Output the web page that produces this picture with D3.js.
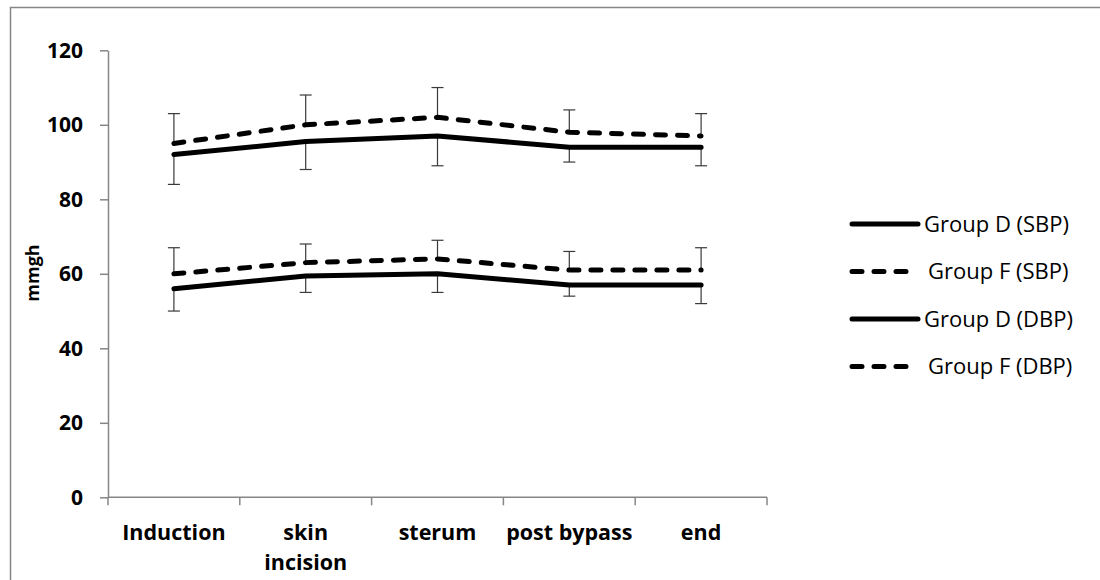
<!DOCTYPE html>
<html>
<head>
<meta charset="utf-8">
<script src="https://cdn.jsdelivr.net/npm/d3@7"></script>
<style>
  body { margin: 0; background: #fff; }
  svg { display: block; font-family: "Open Sans", sans-serif; }
</style>
</head>
<body>
<svg id="chart" width="1100" height="580"></svg>
<script>
const categories = ['Induction', 'skin incision', 'sterum', 'post bypass', 'end']
const yTicks = [0, 20, 40, 60, 80, 100, 120]

// means
const groupDSbp = [92, 95.5, 97, 94, 94]
const groupFSbp = [95, 100, 102, 98, 97]
const groupDDbp = [56, 59.4, 60, 57, 57]
const groupFDbp = [60, 63, 64, 61, 61]

// error bar sizes (D drawn downward, F drawn upward)
const errDSbp = [8, 7.5, 8, 4, 5]
const errFSbp = [8, 8, 8, 6, 6]
const errDDbp = [6, 4.4, 5, 3, 5]
const errFDbp = [7, 5, 5, 5, 6]

const series = [
  { name: 'Group D (SBP)', values: groupDSbp, err: errDSbp, dir: -1, dashed: false },
  { name: 'Group F (SBP)', values: groupFSbp, err: errFSbp, dir: 1, dashed: true },
  { name: 'Group D (DBP)', values: groupDDbp, err: errDDbp, dir: -1, dashed: false },
  { name: 'Group F (DBP)', values: groupFDbp, err: errFDbp, dir: 1, dashed: true },
]

const svg = d3.select('#chart')
const axisColor = '#868686'

// outer chart border (cropped on right/bottom in the original)
svg.append('rect')
  .attr('x', 10.5).attr('y', 7.5)
  .attr('width', 1100).attr('height', 600)
  .attr('fill', 'none').attr('stroke', axisColor).attr('stroke-width', 1.5)

const x = d3.scaleBand().domain(categories).range([108, 767]).padding(0)
const y = d3.scaleLinear().domain([0, 120]).range([497.3, 50.3])
const cx = (i) => x(categories[i]) + x.bandwidth() / 2

// y axis
const yAxis = svg.append('g')
  .attr('transform', 'translate(108,0)')
  .call(d3.axisLeft(y).tickValues(yTicks).tickSize(8).tickSizeOuter(0).tickPadding(17))
yAxis.select('.domain').attr('stroke', axisColor).attr('stroke-width', 1.5)
yAxis.selectAll('.tick line').attr('stroke', axisColor).attr('stroke-width', 1.5)
yAxis.selectAll('.tick text')
  .attr('fill', '#000')
  .style('font-family', '"Open Sans", sans-serif')
  .style('font-size', '21px')
  .style('font-weight', 'bold')

// x axis: line with ticks at category boundaries
const gx = svg.append('g')
gx.append('line')
  .attr('x1', 108).attr('x2', 767)
  .attr('y1', y(0)).attr('y2', y(0))
  .attr('stroke', axisColor).attr('stroke-width', 1.5)
const bounds = categories.map((c) => x(c)).concat([x.range()[1]])
gx.selectAll('line.tk')
  .data(bounds)
  .join('line')
  .attr('class', 'tk')
  .attr('x1', (d) => d).attr('x2', (d) => d)
  .attr('y1', y(0)).attr('y2', y(0) + 8)
  .attr('stroke', axisColor).attr('stroke-width', 1.5)

gx.selectAll('text')
  .data(categories)
  .join('text')
  .attr('text-anchor', 'middle')
  .attr('x', (d, i) => cx(i))
  .attr('y', 540)
  .style('font-size', '21.5px')
  .style('font-weight', 'bold')
  .each(function (d) {
    const words = d === 'skin incision' ? ['skin', 'incision'] : [d]
    const t = d3.select(this)
    words.forEach((w, k) => {
      t.append('tspan').attr('x', cx(categories.indexOf(d))).attr('dy', k ? 30 : 0).text(w)
    })
  })

// y title
svg.append('text')
  .attr('transform', 'translate(39,273) rotate(-90)')
  .attr('text-anchor', 'middle')
  .style('font-size', '18px')
  .style('font-weight', 'bold')
  .text('mmgh')

// error bars
const eb = svg.append('g').attr('stroke', '#3a3a3a').attr('stroke-width', 1.2)
series.forEach((s) => {
  s.values.forEach((v, i) => {
    const y1 = y(v), y2 = y(v + s.dir * s.err[i])
    eb.append('line').attr('x1', cx(i)).attr('x2', cx(i)).attr('y1', y1).attr('y2', y2)
    eb.append('line').attr('x1', cx(i) - 6).attr('x2', cx(i) + 6).attr('y1', y2).attr('y2', y2)
  })
})

// lines
const line = d3.line().x((d, i) => cx(i)).y((d) => y(d))
svg.append('g')
  .selectAll('path')
  .data(series)
  .join('path')
  .attr('d', (d) => line(d.values))
  .attr('fill', 'none')
  .attr('stroke', '#000')
  .attr('stroke-width', 5)
  .attr('stroke-linecap', 'round')
  .attr('stroke-linejoin', 'round')
  .attr('stroke-dasharray', (d) => (d.dashed ? '10,12' : null))

// legend
const legend = svg.append('g')
series.forEach((s, k) => {
  const ly = 224 + k * 47.5
  legend.append('line')
    .attr('x1', 852).attr('x2', s.dashed ? 913 : 918)
    .attr('y1', ly).attr('y2', ly)
    .attr('stroke', '#000').attr('stroke-width', 5)
    .attr('stroke-linecap', 'round')
    .attr('stroke-dasharray', s.dashed ? '10,12' : null)
  legend.append('text')
    .attr('x', s.dashed ? 928 : 924).attr('y', ly)
    .attr('dy', '0.36em')
    .style('font-size', '22px')
    .text(s.name)
})
</script>
</body>
</html>
